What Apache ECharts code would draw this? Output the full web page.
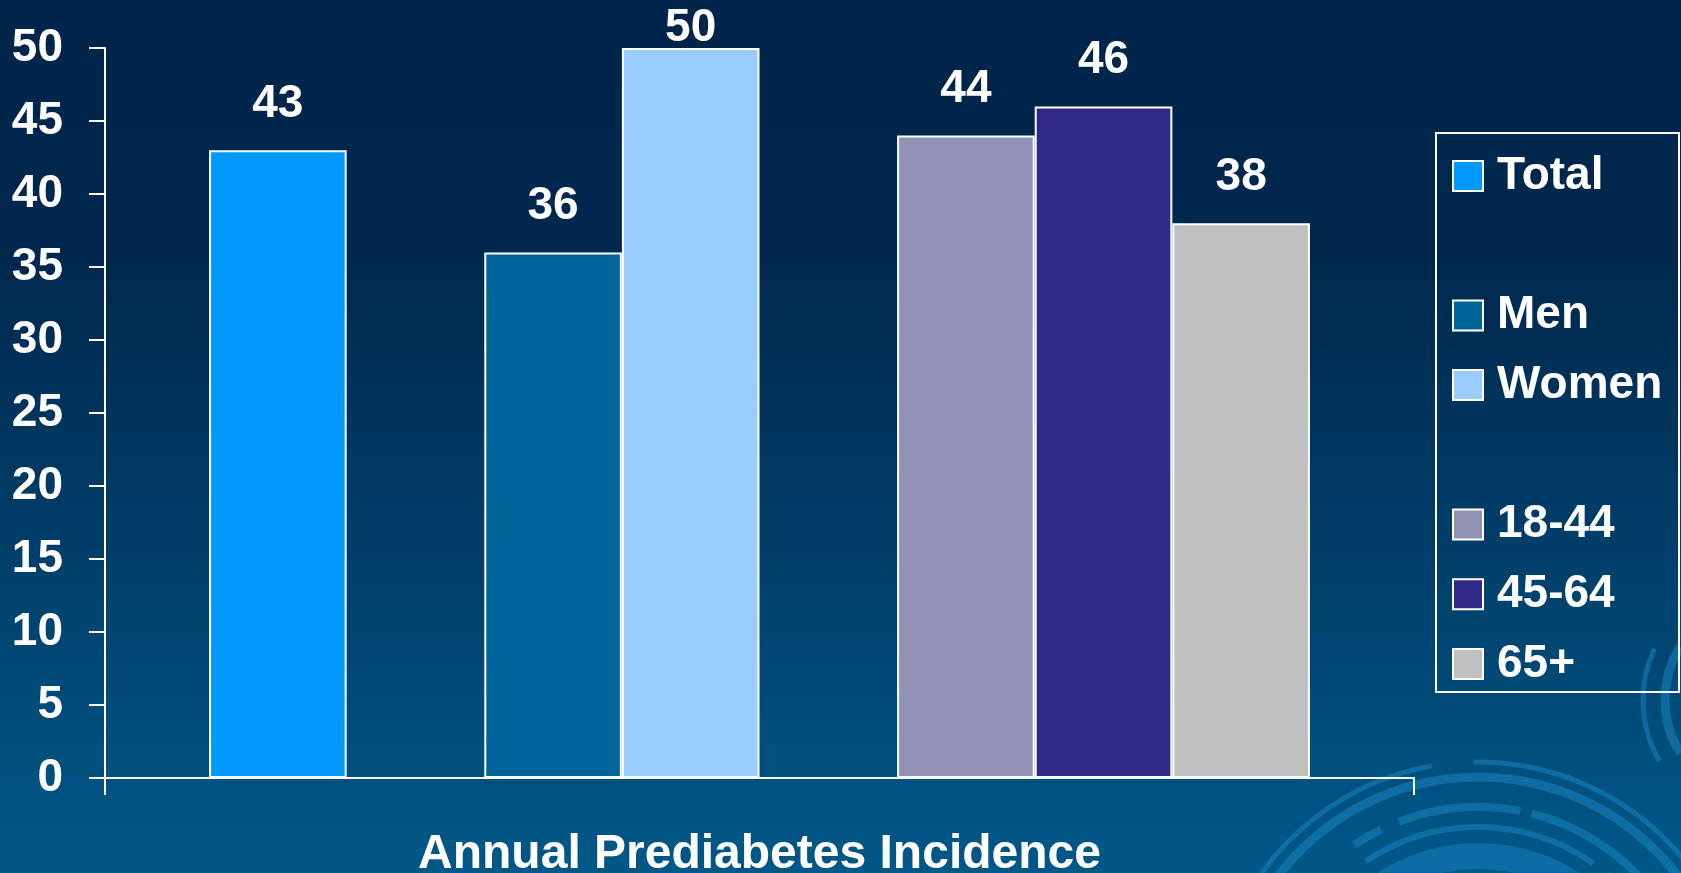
<!DOCTYPE html>
<html>
<head>
<meta charset="utf-8">
<script src="https://cdn.jsdelivr.net/npm/echarts@6/dist/echarts.min.js"></script>
<style>
html,body{margin:0;padding:0;background:#002a50;}
#chart{width:1681px;height:873px;}
</style>
</head>
<body>
<div id="chart"></div>
<script>
// ---- data ----
var categories = ['Annual Prediabetes Incidence'];
var seriesNames = ['Total', ' ', 'Men', 'Women', '  ', '18-44', '45-64', '65+'];
var seriesValues = [43, null, 36, 50, null, 44, 46, 38];
var seriesColors = ['#0099ff', 'rgba(0,0,0,0)', '#006699', '#99ccff', 'rgba(0,0,0,0)', '#9292b6', '#2e2a86', '#c0c0c0'];
var yTicks = [0, 5, 10, 15, 20, 25, 30, 35, 40, 45, 50];

var FONT = '"Liberation Sans", Arial, sans-serif';

var series = seriesNames.map(function (name, i) {
  var blank = seriesValues[i] === null;
  var v = seriesValues[i];
  var item = { value: blank ? '-' : v };
  if (v === 50) { item.label = { distance: -3 }; }
  return {
    name: name,
    type: 'bar',
    barGap: '0%',
    barCategoryGap: '15.9%',
    data: [item],
    itemStyle: {
      color: seriesColors[i],
      borderColor: blank ? 'rgba(0,0,0,0)' : '#ffffff',
      borderWidth: blank ? 0 : 2
    },
    label: {
      show: !blank,
      position: 'top',
      distance: 23,
      color: '#ffffff',
      fontFamily: FONT,
      fontWeight: 'bold',
      fontSize: 46
    },
    emphasis: { disabled: true }
  };
});

var chart = echarts.init(document.getElementById('chart'), null, { renderer: 'canvas' });

var arcs = [];
function arc(cx, cy, r, a0, a1, w, color) {
  arcs.push({
    type: 'arc', silent: true, z: -5,
    shape: { cx: cx, cy: cy, r: r, startAngle: a0 * Math.PI / 180, endAngle: a1 * Math.PI / 180 },
    style: { stroke: color, lineWidth: w, fill: null }
  });
}
var dc = 'rgba(25,135,195,0.5)';
var CX = 1478, CY = 1028;
arc(CX, CY, 266, 205, 260, 5, dc);
arc(CX, CY, 266, 269, 345, 5, dc);
arc(CX, CY, 251, 195, 345, 9, dc);
arc(CX, CY, 221, 236, 244, 8, dc);
arc(CX, CY, 221, 249, 281, 8, dc);
arc(CX, CY, 221, 284, 340, 8, dc);
arc(CX, CY, 201, 200, 228, 6, dc);
arc(CX, CY, 201, 236, 305, 6, dc);
arc(CX, CY, 201, 310, 340, 6, dc);
arc(CX, CY, 172, 190, 350, 26, 'rgba(25,135,195,0.45)');
arc(1765, 700, 122, 150, 205, 5, 'rgba(25,135,195,0.5)');
arc(1765, 700, 100, 148, 212, 9, 'rgba(25,135,195,0.5)');

var option = {
  animation: false,
  graphic: [
    {
      type: 'rect', silent: true, z: -10,
      shape: { x: 0, y: 0, width: 1681, height: 873 },
      style: {
        fill: new echarts.graphic.LinearGradient(0, 0, 0, 1, [
          { offset: 0, color: '#00244a' },
          { offset: 0.3, color: '#00284e' },
          { offset: 1, color: '#005888' }
        ])
      }
    }
  ].concat(arcs).concat([
    {
      type: 'rect', silent: true, z: 1,
      shape: { x: 1436, y: 133, width: 243, height: 559 },
      style: { fill: null, stroke: '#ffffff', lineWidth: 2 }
    }
  ]),
  grid: { left: 105, right: 267, top: 48, bottom: 95, containLabel: false, outerBoundsMode: 'none' },
  legend: {
    orient: 'vertical',
    left: 1447,
    top: 148,
    padding: 5,
    itemWidth: 30,
    itemHeight: 30,
    itemGap: 23.7,
    selectedMode: false,
    icon: 'rect',
    data: seriesNames,
    textStyle: {
      color: '#ffffff',
      fontFamily: FONT,
      fontWeight: 'bold',
      fontSize: 46,
      lineHeight: 46,
      padding: [0, 0, 0, 9]
    }
  },
  xAxis: {
    type: 'category',
    data: categories,
    axisLine: { lineStyle: { color: '#ffffff', width: 2 } },
    axisTick: { show: true, length: 17, lineStyle: { color: '#ffffff', width: 2 } },
    axisLabel: {
      color: '#ffffff', fontFamily: FONT, fontWeight: 'bold', fontSize: 48, margin: 53
    }
  },
  yAxis: {
    type: 'value',
    min: yTicks[0],
    max: yTicks[yTicks.length - 1],
    interval: 5,
    splitLine: { show: false },
    axisLine: { show: true, lineStyle: { color: '#ffffff', width: 2 } },
    axisTick: { show: true, length: 16, lineStyle: { color: '#ffffff', width: 2 } },
    axisLabel: {
      color: '#ffffff', fontFamily: FONT, fontWeight: 'bold', fontSize: 46, margin: 42
    }
  },
  series: series
};
chart.setOption(option);
</script>
</body>
</html>
